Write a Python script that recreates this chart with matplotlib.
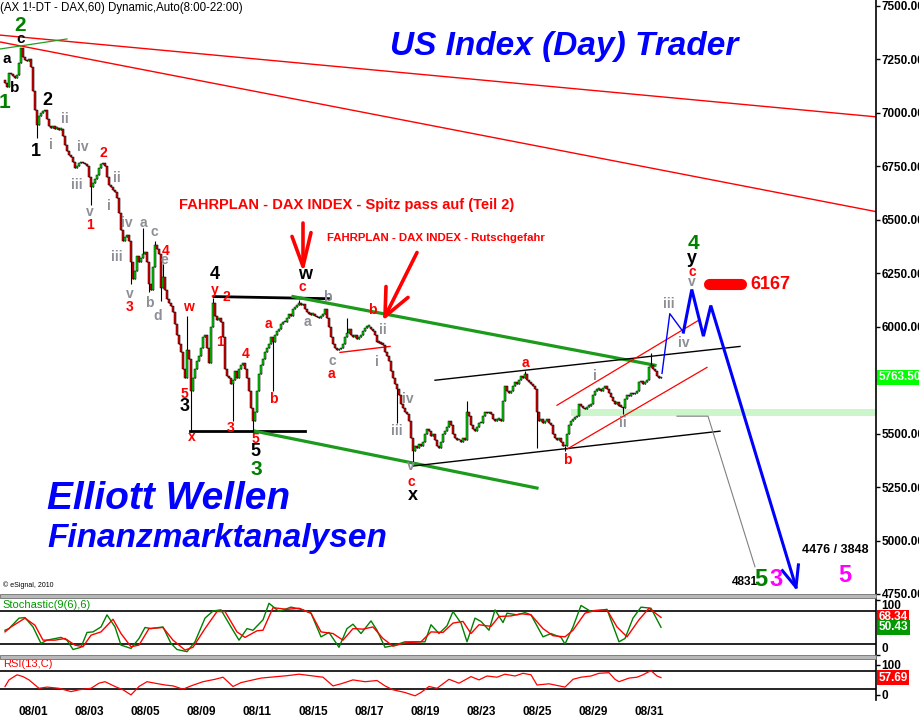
import numpy as np
import matplotlib
matplotlib.use("Agg")
import matplotlib.pyplot as plt
from matplotlib.patches import Rectangle

plt.rcParams["font.family"] = ["Liberation Sans", "DejaVu Sans"]

# hourly bars 8:00-22:00 -> 14 bars per trading day
BARS_PER_DAY = 14
days = ["07/29", "08/01", "08/02", "08/03", "08/04", "08/05", "08/08", "08/09",
        "08/10", "08/11", "08/12", "08/15", "08/16", "08/17", "08/18", "08/19",
        "08/22", "08/23", "08/24", "08/25", "08/26", "08/29", "08/30", "08/31"]
tick_days = ["08/01", "08/03", "08/05", "08/09", "08/11", "08/15", "08/17",
             "08/19", "08/23", "08/25", "08/29", "08/31"]

first_open = 7150
closes_by_day = [
    [7140, 7120, 7185, 7180, 7170, 7160, 7175, 7230, 7300, 7260, 7245, 7240, 7250, 7215],
    [7100, 7010, 6940, 6985, 7000, 7005, 7010, 6970, 6935, 6930, 6935, 6925, 6930, 6920],
    [6925, 6890, 6850, 6820, 6800, 6790, 6770, 6740, 6750, 6765, 6770, 6765, 6760, 6750],
    [6700, 6650, 6670, 6690, 6710, 6740, 6760, 6765, 6750, 6700, 6660, 6650, 6640, 6630],
    [6600, 6530, 6450, 6400, 6420, 6430, 6400, 6300, 6220, 6260, 6330, 6300, 6320, 6340],
    [6350, 6300, 6200, 6170, 6280, 6380, 6360, 6340, 6180, 6230, 6170, 6130, 6110, 6095],
    [6070, 6010, 5960, 5920, 5880, 5800, 5760, 5890, 5850, 5700, 5760, 5800, 5840, 5860],
    [5900, 5950, 5960, 5900, 5830, 6000, 6110, 6050, 6030, 6040, 6020, 5950, 5800, 5770],
    [5760, 5730, 5750, 5790, 5760, 5800, 5820, 5830, 5800, 5760, 5700, 5620, 5560, 5600],
    [5700, 5780, 5820, 5850, 5880, 5900, 5920, 5950, 5930, 5960, 5980, 5990, 6010, 6020],
    [6020, 6040, 6060, 6050, 6080, 6090, 6100, 6110, 6100, 6105, 6080, 6070, 6060, 6055],
    [6060, 6050, 6045, 6040, 6050, 6060, 6080, 6040, 6000, 5950, 5920, 5900, 5890, 5895],
    [5900, 5920, 5950, 5970, 5990, 5960, 5950, 5960, 5940, 5950, 5960, 5980, 5995, 6000],
    [6000, 5990, 5980, 5960, 5930, 5925, 5920, 5915, 5880, 5860, 5840, 5790, 5760, 5730],
    [5710, 5680, 5640, 5620, 5600, 5590, 5560, 5480, 5420, 5440, 5430, 5450, 5440, 5460],
    [5500, 5520, 5510, 5490, 5500, 5470, 5440, 5430, 5460, 5500, 5510, 5530, 5560, 5540],
    [5500, 5480, 5470, 5470, 5460, 5480, 5470, 5600, 5580, 5540, 5520, 5510, 5530, 5550],
    [5550, 5580, 5600, 5595, 5600, 5590, 5570, 5560, 5565, 5570, 5560, 5650, 5720, 5700],
    [5690, 5700, 5720, 5740, 5730, 5750, 5770, 5760, 5780, 5750, 5740, 5730, 5720, 5710],
    [5600, 5560, 5570, 5550, 5560, 5570, 5550, 5540, 5500, 5480, 5470, 5480, 5460, 5440],
    [5440, 5500, 5540, 5560, 5570, 5575, 5580, 5640, 5630, 5620, 5615, 5625, 5630, 5640],
    [5680, 5700, 5705, 5710, 5700, 5715, 5720, 5710, 5690, 5670, 5650, 5640, 5645, 5630],
    [5625, 5620, 5660, 5680, 5675, 5690, 5685, 5690, 5700, 5740, 5745, 5730, 5740, 5750],
    [5810, 5820, 5800, 5790, 5770, 5760, 5763.5],
]
# long wicks (bar -> price)
spike_highs = {69: 6460, 75: 6400, 79: 6290, 91: 6050, 104: 6135, 147: 6125,
               171: 6040, 231: 5650, 260: 5790, 323: 5876}
spike_lows = {16: 6880, 43: 6570, 63: 6200, 72: 6160, 78: 6120, 93: 5505,
              114: 5560, 124: 5505, 134: 5700, 196: 5550, 204: 5360,
              266: 5430, 280: 5420, 309: 5590}

# Stochastic(9(6),6): %K (green) and %D (red), sampled along the bars
stoch_k_bar = [0, 2, 7, 10, 14, 18, 21, 28, 31, 34, 38, 41, 44, 48, 51, 55, 58, 63, 67,
               70, 73, 79, 83, 86, 91, 95, 100, 104, 108, 113, 117, 121, 124, 129, 132,
               137, 143, 148, 153, 158, 162, 167, 171, 174, 178, 183, 186, 190, 195,
               200, 206, 210, 213, 217, 221, 224, 228, 231, 235, 238, 242, 245, 249,
               251, 256, 260, 263, 269, 273, 278, 280, 284, 288, 293, 297, 301, 307,
               310, 314, 318, 323, 328]
stoch_k = [45, 48, 67, 68, 51, 21, 27, 32, 27, 10, 14, 41, 42, 51, 73, 51, 18, 12, 30,
           50, 48, 51, 21, 10, 6, 24, 67, 80, 82, 51, 27, 48, 45, 64, 94, 79, 87, 83,
           76, 33, 41, 14, 48, 56, 39, 62, 45, 14, 18, 24, 24, 24, 55, 39, 53, 79, 58,
           24, 67, 61, 45, 82, 59, 76, 73, 77, 73, 33, 39, 32, 20, 51, 90, 79, 81, 83,
           24, 30, 67, 87, 85, 50.43]
stoch_d_bar = [0, 3, 10, 15, 19, 25, 30, 35, 39, 43, 48, 54, 58, 63, 67, 72, 79, 84,
               90, 94, 100, 106, 110, 116, 120, 126, 129, 134, 141, 147, 153, 158, 164,
               169, 174, 179, 184, 189, 194, 200, 208, 213, 219, 224, 229, 233, 237,
               243, 247, 253, 258, 263, 269, 274, 280, 284, 290, 295, 301, 306, 311,
               317, 322, 328]
stoch_d = [42, 51, 67, 54, 27, 27, 30, 18, 15, 36, 42, 65, 39, 15, 18, 48, 50, 27, 9,
           14, 48, 79, 79, 42, 32, 44, 45, 86, 83, 85, 76, 42, 39, 27, 48, 47, 51, 30,
           16, 22, 24, 42, 41, 58, 61, 39, 55, 52, 70, 71, 75, 73, 48, 35, 33, 45, 76,
           81, 82, 51, 33, 64, 85, 68.34]

# RSI(13,C)
rsi_bar = [0, 2, 6, 9, 12, 17, 21, 27, 33, 37, 43, 47, 50, 55, 59, 63, 67, 71, 75,
           80, 84, 89, 93, 99, 105, 109, 114, 118, 124, 128, 136, 141, 147, 153, 159,
           164, 168, 174, 180, 186, 190, 194, 200, 205, 208, 212, 216, 222, 227, 233,
           237, 241, 246, 250, 255, 259, 263, 266, 272, 280, 284, 288, 293, 297, 302,
           305, 307, 312, 316, 319, 323, 326, 328]
rsi = [28, 50, 67, 61, 50, 22, 26, 22, 11, 17, 22, 39, 44, 28, 17, 0, 28, 44, 39, 33,
       30, 19, 30, 44, 52, 59, 28, 41, 50, 56, 61, 64, 69, 64, 59, 30, 37, 50, 44, 48,
       30, 17, 8, -3, 8, 28, 22, 52, 39, 61, 50, 63, 59, 69, 63, 72, 67, 33, 37, 26,
       52, 59, 63, 72, 74, 52, 44, 56, 59, 67, 81, 63, 57.69]

# Elliott wave labels (bar, price, text, style)
wave_labels = [
    (7.5, 7409, "2", "G"), (8, 7344, "c", "k"), (1, 7250, "a", "k"), (5, 7115, "b", "k"),
    (0, 7045, "1", "G"), (21, 7055, "2", "K"), (15.5, 6817, "1", "K"),
    (30, 6970, "ii", "s"), (23, 6850, "i", "s"), (39, 6840, "iv", "s"),
    (36, 6663, "iii", "s"), (49, 6812, "2", "r"), (56, 6695, "ii", "s"),
    (52, 6565, "i", "s"), (42.5, 6537, "v", "s"), (42.5, 6476, "1", "r"),
    (61, 6486, "iv", "s"), (69, 6486, "a", "s"), (74.5, 6440, "c", "s"),
    (80.5, 6355, "4", "r"), (79.5, 6313, "e", "s"), (56, 6327, "iii", "s"),
    (62.5, 6150, "v", "s"), (62.5, 6089, "3", "r"), (72, 6112, "b", "s"),
    (76.5, 6047, "d", "s"), (91.5, 6089, "w", "r"), (105, 6243, "4", "K"),
    (105, 6173, "y", "r"), (110.5, 6136, "2", "r"), (107.5, 5930, "1", "r"),
    (120.5, 5870, "4", "r"), (131.5, 6010, "a", "r"), (134, 5660, "b", "r"),
    (89.5, 5684, "5", "r"), (90, 5627, "3", "K"), (93.5, 5483, "x", "r"),
    (113, 5525, "3", "r"), (125, 5473, "5", "r"), (125, 5417, "5", "K"),
    (125.5, 5334, "3", "G"), (150, 6243, "w", "K"), (148.5, 6183, "c", "r"),
    (161, 6136, "b", "s"), (151, 6019, "a", "s"), (183.5, 6075, "b", "r"),
    (189, 5982, "ii", "s"), (163.5, 5837, "c", "s"), (163, 5777, "a", "r"),
    (186, 5832, "i", "s"), (201.5, 5659, "iv", "s"), (196, 5511, "iii", "s"),
    (203, 5346, "v", "s"), (203, 5273, "c", "r"), (204, 5208, "x", "K"),
    (260, 5828, "a", "r"), (281, 5375, "b", "r"), (295, 5767, "i", "s"),
    (309, 5548, "ii", "s"), (332, 6107, "iii", "s"), (339.5, 5925, "iv", "s"),
    (344, 6388, "4", "G"), (343.5, 6318, "y", "K"), (343.5, 6257, "c", "r"),
    (343.5, 6206, "v", "s"),
    (385.5, 4816, "3", "M"), (378, 4816, "5", "G2"), (420, 4835, "5", "M"),
]
styles = {
    "G": dict(color="#008000", fontsize=15), "G2": dict(color="#008000", fontsize=17),
    "K": dict(color="black", fontsize=13), "k": dict(color="black", fontsize=11),
    "r": dict(color="#ff0000", fontsize=10), "s": dict(color="#8e8e96", fontsize=10),
    "M": dict(color="#ff00ff", fontsize=17),
}

# ---------------------------------------------------------------- data prep
close = np.array([c for day in closes_by_day for c in day], dtype=float)
n = len(close)
bars = np.arange(n)
opn = np.r_[first_open, close[:-1]]
high = np.maximum(opn, close)
low = np.minimum(opn, close)
for b, v in spike_highs.items():
    high[b] = max(high[b], v)
for b, v in spike_lows.items():
    low[b] = min(low[b], v)

# ---------------------------------------------------------------- layout
W, H = 920, 721
RIGHT = 876
fig = plt.figure(figsize=(W / 100, H / 100), dpi=100)


def box(top, bottom):
    return [0, 1 - bottom / H, RIGHT / W, (bottom - top) / H]


ax = fig.add_axes(box(0, 594))
ax_st = fig.add_axes(box(598, 655), sharex=ax)
ax_rsi = fig.add_axes(box(658, 700), sharex=ax)

ax.set_xlim(-2.5, 435.5)
ax.set_ylim(4755, 7526)
ax_st.set_ylim(0, 103.6)
ax_rsi.set_ylim(-17, 123)

for a in (ax, ax_st, ax_rsi):
    for s in ("top", "left", "bottom"):
        a.spines[s].set_visible(False)
    a.spines["right"].set_linewidth(1.2)
    a.yaxis.tick_right()
    a.tick_params(axis="y", direction="out", length=3, width=1, pad=1,
                  labelsize=8.5)
    a.tick_params(axis="x", length=0)

# panel separators
for top in (594, 655):
    fig.patches.append(Rectangle((0, 1 - (top + 4) / H), RIGHT / W, 4 / H,
                                 transform=fig.transFigure, fc="#b8b8b8",
                                 ec="#707070", lw=0.6))

# ---------------------------------------------------------------- main panel
ax.axhspan(5580, 5614, xmin=(283 + 2.5) / 438, xmax=1, color="#ccf5cc", lw=0)

# trend lines
ax.plot([-2.5, 435.5], [7362, 6980], color="#ff0000", lw=1)
ax.plot([-2.5, 435.5], [7330, 6537], color="#ff0000", lw=1)
ax.plot([-2.5, 31], [7297, 7344], color="#20a020", lw=0.9)
ax.plot([104.5, 162.5], [6140, 6130], color="black", lw=2)
ax.plot([92.5, 150], [5511, 5511], color="black", lw=2)
ax.plot([144, 325], [6140, 5819], color="#1c9a1c", lw=2.3)
ax.plot([125, 266], [5511, 5245], color="#1c9a1c", lw=2.3)
ax.plot([204, 357.5], [5348, 5511], color="black", lw=1)
ax.plot([215, 367.5], [5749, 5907], color="black", lw=1)
ax.plot([276, 347.5], [5632, 6033], color="#ff0000", lw=0.9)
ax.plot([281, 351], [5427, 5809], color="#ff0000", lw=0.9)
ax.plot([167.5, 192.5], [5879, 5907], color="#ff0000", lw=1)
ax.plot([336, 351.5, 375], [5581, 5581, 4877], color="#808080", lw=0.8)

# candles
up = close >= opn
body_bottom = np.minimum(opn, close)
body_h = np.maximum(np.abs(close - opn), 6)
ax.vlines(bars, low, high, color="black", lw=0.8, zorder=3)
ax.bar(bars, body_h, bottom=body_bottom, width=1.25,
       color=np.where(up, "#00d800", "#e80000"), edgecolor="black",
       linewidth=0.35, zorder=4)

# projected path
ax.plot([328.5, 332.4, 339.2], [5781, 6060, 5974], color="#0000ff", lw=1)
ax.plot([339.2, 343.4, 349.2, 352.9, 395.5], [5974, 6173, 5955, 6098, 4782],
        color="#0000ff", lw=2.2, solid_joinstyle="miter")
ax.plot([388.7, 395.5, 396.7], [4859, 4782, 4886], color="#0000ff", lw=2.2)

# target pill
ax.plot([352, 368], [6198, 6198], color="#ff0000", lw=8, solid_capstyle="round")
ax.text(382.5, 6196, "6167", color="#ff0000", fontsize=13, fontweight="bold",
        ha="center", va="center")

# red arrows
red_arrow = dict(color="#ff0000", lw=2.6, solid_capstyle="round")
ax.plot([149, 149], [6486, 6281], **red_arrow)
ax.plot([143.5, 149, 153], [6421, 6281, 6439], **red_arrow)
ax.plot([206, 190], [6346, 6047], **red_arrow)
ax.plot([190.5, 190, 201.5], [6187, 6047, 6136], **red_arrow)

for x, y, t, st in wave_labels:
    ax.text(x, y, t, ha="center", va="center", fontweight="bold", zorder=6,
            **styles[st])

ax.text(370, 4807, "4831", fontsize=8.5, fontweight="bold", ha="center", va="center")
ax.text(415, 4957, "4476 / 3848", fontsize=9, fontweight="bold", ha="center",
        va="center")

ax.text(171, 6570, "FAHRPLAN - DAX INDEX - Spitz pass auf (Teil 2)", color="#ff0000",
        fontsize=10.5, fontweight="bold", ha="center", va="center")
ax.text(215.5, 6415, "FAHRPLAN - DAX INDEX - Rutschgefahr", color="#ff0000",
        fontsize=8.2, fontweight="bold", ha="center", va="center")

ax.text(0.644, 0.922, "US Index (Day) Trader", transform=ax.transAxes,
        color="#0000ff", fontsize=24, fontweight="bold", fontstyle="italic",
        ha="center", va="center")
ax.text(0.054, 0.16, "Elliott Wellen", transform=ax.transAxes, color="#0000ff",
        fontsize=28, fontweight="bold", fontstyle="italic", ha="left", va="center")
ax.text(0.054, 0.093, "Finanzmarktanalysen", transform=ax.transAxes,
        color="#0000ff", fontsize=24, fontweight="bold", fontstyle="italic",
        ha="left", va="center")
ax.text(0.0, 0.997, "(AX 1!-DT - DAX,60) Dynamic,Auto(8:00-22:00)",
        transform=ax.transAxes, fontsize=8.3, ha="left", va="top")
ax.text(0.003, 0.009, "\u00a9 eSignal, 2010", transform=ax.transAxes, fontsize=5,
        ha="left", va="bottom")

ax.set_yticks(np.arange(4750, 7501, 250))
ax.set_yticklabels([f"{v:.2f}" for v in np.arange(4750, 7501, 250)],
                   fontweight="bold")
ax.tick_params(axis="x", labelbottom=False)
ax.text(1.003, close[-1], f"{close[-1]:.2f}", transform=ax.get_yaxis_transform(),
        color="white", fontsize=8.5, fontweight="bold", ha="left", va="center",
        bbox=dict(boxstyle="square,pad=0.12", fc="#00ff00", ec="none"))

# ---------------------------------------------------------------- stochastic
ax_st.axhline(80, color="black", lw=1.2)
ax_st.axhline(20, color="black", lw=1.2)
ax_st.plot(stoch_k_bar, stoch_k, color="#008000", lw=1)
ax_st.plot(stoch_d_bar, stoch_d, color="#ff0000", lw=1)
ax_st.set_yticks([0, 100])
ax_st.set_yticklabels(["0", "100"], fontweight="bold")
ax_st.get_yticklabels()[0].set_va("bottom")
ax_st.get_yticklabels()[1].set_va("top")
ax_st.tick_params(axis="x", labelbottom=False)
ax_st.text(0.003, 0.97, "Stochastic(9(6),6)", transform=ax_st.transAxes,
           color="#009900", fontsize=8, ha="left", va="top")
ax_st.text(1.003, stoch_d[-1], f"{stoch_d[-1]:.2f}", transform=ax_st.get_yaxis_transform(),
           color="white", fontsize=8.5, fontweight="bold", ha="left", va="center",
           bbox=dict(boxstyle="square,pad=0.12", fc="#ff0000", ec="none"))
ax_st.text(1.003, stoch_k[-1], f"{stoch_k[-1]:.2f}", transform=ax_st.get_yaxis_transform(),
           color="white", fontsize=8.5, fontweight="bold", ha="left", va="center",
           bbox=dict(boxstyle="square,pad=0.12", fc="#009900", ec="none"))

# ---------------------------------------------------------------- RSI
ax_rsi.axhline(80, color="black", lw=1.2)
ax_rsi.axhline(20, color="black", lw=1.2)
ax_rsi.plot(rsi_bar, rsi, color="#ff0000", lw=0.9)
ax_rsi.set_yticks([0, 100])
ax_rsi.set_yticklabels(["0", "100"], fontweight="bold")
ax_rsi.text(0.003, 0.97, "RSI(13,C)", transform=ax_rsi.transAxes,
            color="#ff0000", fontsize=8, ha="left", va="top")
ax_rsi.text(1.003, rsi[-1], f"{rsi[-1]:.2f}", transform=ax_rsi.get_yaxis_transform(),
            color="white", fontsize=8.5, fontweight="bold", ha="left", va="center",
            bbox=dict(boxstyle="square,pad=0.12", fc="#ff0000", ec="none"))

ax_rsi.set_xticks([days.index(d) * BARS_PER_DAY for d in tick_days])
ax_rsi.set_xticklabels(tick_days, fontweight="bold", fontsize=8.5)
ax_rsi.tick_params(axis="x", length=0, pad=4)

fig.savefig("out.png", dpi=100, facecolor="white")
